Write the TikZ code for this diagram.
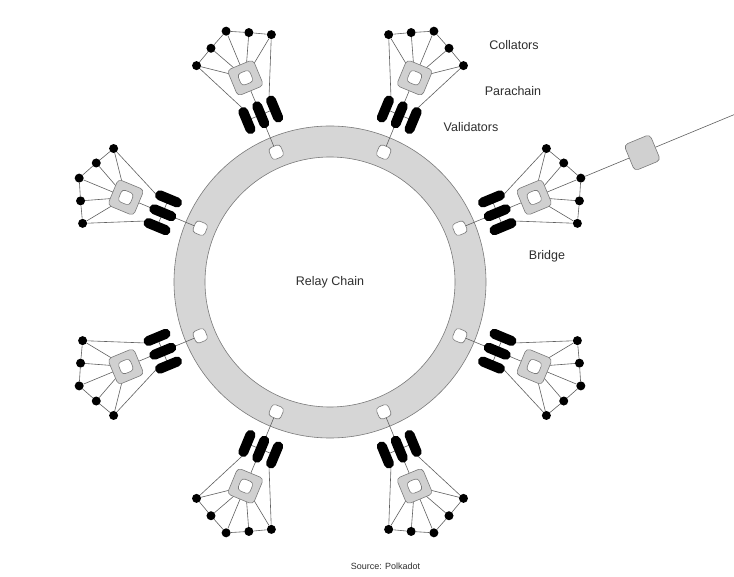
\documentclass[tikz,border=0pt]{standalone}
\usepackage{fontspec}
\setmainfont{Liberation Sans}
\pgfdeclarelayer{bg}
\pgfsetlayers{bg,main}
\definecolor{ringfill}{HTML}{D6D6D6}
\definecolor{boxfill}{HTML}{D0D0D0}
\definecolor{edgegray}{HTML}{7A7A7A}
\definecolor{linkgray}{HTML}{606060}
\definecolor{txt}{HTML}{2E2E2E}
\begin{document}
\begin{tikzpicture}[x=1pt,y=1pt,
  link/.style={draw=linkgray, line width=0.6pt},
  dot/.style={circle, fill=black, inner sep=0pt, minimum size=9pt},
  pill/.style={rectangle, rounded corners=5pt, fill=black, inner sep=0pt, minimum width=28.5pt, minimum height=10pt},
  para/.style={rectangle, rounded corners=4pt, fill=boxfill, draw=edgegray, line width=0.6pt, inner sep=0pt, minimum size=28pt},
  hole/.style={rectangle, rounded corners=3.5pt, fill=white, draw=edgegray, line width=0.6pt, inner sep=0pt, minimum size=12.7pt},
  slot/.style={rectangle, rounded corners=3.5pt, fill=white, draw=edgegray, line width=0.6pt, inner sep=0pt, minimum size=12.7pt},
  bridgebox/.style={rectangle, rounded corners=4pt, fill=boxfill, draw=edgegray, line width=0.6pt, inner sep=0pt, minimum size=28pt},
  lbl/.style={text=txt, font=\fontsize{12.5}{14}\selectfont, inner sep=0pt},
  src/.style={text=txt, font=\fontsize{9}{11}\selectfont, inner sep=0pt}]
\useasboundingbox (0,0) rectangle (734,-577);

% units
\foreach \a [count=\i] in {22.5,67.5,112.5,157.5,202.5,247.5,292.5,337.5} {
  \begin{scope}[shift={(330,-282)}, rotate=\a]
    \node[slot, rotate=\a] (s\i) at (140.5,0) {};
    \node[pill, rotate=\a] (pa\i) at (181,-15) {};
    \node[pill, rotate=\a] (pb\i) at (181,0) {};
    \node[pill, rotate=\a] (pc\i) at (181,15) {};
    \node[para, rotate=\a] (q\i) at (221,0) {};
    \node[hole, rotate=\a] (h\i) at (221,0) {};
    \node[dot] (ca\i) at (251,-40.5) {};
    \node[dot] (cb\i) at (261.5,-20.5) {};
    \node[dot] (cc\i) at (271.5,0) {};
    \node[dot] (cd\i) at (261.5,20.5) {};
    \node[dot] (ce\i) at (251,40.5) {};
  \end{scope}
}

% bridge
\begin{scope}[shift={(330,-282)}, rotate=22.5]
  \node[bridgebox, rotate=22.5] (br) at (338,0) {};
  \coordinate (bend) at (450,0);
\end{scope}

% background: page, ring and connectors
\begin{pgfonlayer}{bg}
  \fill[white] (0,0) rectangle (734,-577);
  \draw[fill=ringfill, draw=edgegray, line width=0.6pt, even odd rule]
    (330,-282) circle (156) (330,-282) circle (125);
  \foreach \i in {1,...,8} {
    \draw[link] (s\i.center) -- (pb\i.center) -- (q\i.center);
    \draw[link] (pa\i.center) -- (pc\i.center);
    \draw[link] (ca\i) -- (cb\i) -- (cc\i) -- (cd\i) -- (ce\i);
    \foreach \k in {a,b,c,d,e} {
      \draw[link] (q\i.center) -- (c\k\i);
    }
    \draw[link] (pa\i.east) -- (ca\i);
    \draw[link] (pc\i.east) -- (ce\i);
  }
  \draw[link] (cc1) -- (br) -- (bend);
\end{pgfonlayer}

% labels
\node[lbl] (tcoll) at (514,-45.5) {Collators};
\node[lbl] (tpara) at (513,-91) {Parachain};
\node[lbl] (tvali) at (471,-127.5) {Validators};
\node[lbl] (tbrid) at (547,-256) {Bridge};
\node[lbl] (trelay) at (330,-282.5) {Relay Chain};
\node[src] (tsrc) at (385.5,-566) {Source: Polkadot};
\end{tikzpicture}
\end{document}
